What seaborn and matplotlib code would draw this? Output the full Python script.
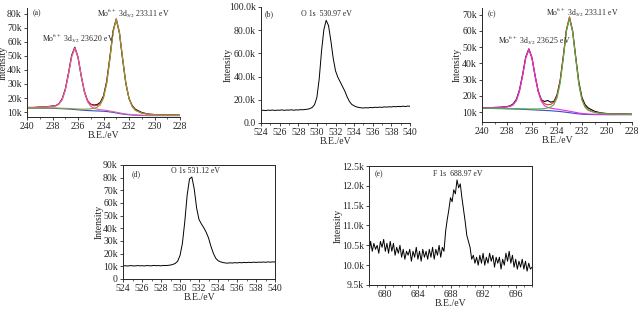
import pandas as pd
import matplotlib
matplotlib.use("Agg")
import matplotlib.pyplot as plt
from matplotlib.ticker import FuncFormatter, MultipleLocator
import seaborn as sns

# --- data (intensities in counts) ---
# Mo 3d panels (a) and (c)
be_mo = [240, 239.5, 239, 238.5, 238, 237.75, 237.5, 237.25, 237, 236.75, 236.5, 236.25,
         236, 235.75, 235.5, 235.25, 235, 234.75, 234.5, 234.25, 234, 233.75, 233.5, 233.25,
         233, 232.75, 232.5, 232.25, 232, 231.75, 231.5, 231, 230.5, 230, 229.5, 229, 228.5, 228]

a_raw = [13.3, 13.25, 13.55, 13.7, 14.3, 14.5, 15.9, 19.3, 26.2, 37.5, 50.3, 56.1,
         49.0, 35.6, 24.4, 17.9, 15.6, 15.0, 15.3, 16.9, 21.5, 32.0, 49.0, 67.8,
         76.0, 66.0, 47.3, 30.2, 19.6, 14.6, 12.0, 9.7, 8.6, 8.25, 8.0, 7.95, 7.9, 7.8]
a_env = [13.2, 13.32, 13.49, 13.77, 14.22, 14.64, 15.86, 18.89, 25.63, 36.87, 49.62, 55.78,
         49.4, 36.4, 25.1, 18.35, 15.45, 14.5, 14.7, 16.2, 20.75, 30.95, 47.95, 67.15,
         76.4, 66.95, 48.5, 31.15, 19.9, 14.15, 11.4, 9.35, 8.5, 8.2, 8.0, 7.9, 7.85, 7.8]
a_bg = [12.8, 12.8, 12.8, 12.8, 12.7, 12.6, 12.5, 12.4, 12.3, 12.2, 12.0, 11.8,
        11.6, 11.4, 11.25, 11.1, 11.0, 10.9, 10.8, 10.7, 10.6, 10.4, 10.1, 9.8,
        9.4, 9.0, 8.6, 8.3, 8.1, 7.9, 7.8, 7.6, 7.5, 7.5, 7.5, 7.5, 7.5, 7.5]
a_p1 = [13.1, 13.2, 13.35, 13.6, 14.0, 14.4, 15.6, 18.6, 25.3, 36.5, 49.2, 55.3,
        48.8, 35.7, 24.25, 17.3, 14.1, 12.7, 12.1, 11.7, 11.45, 11.15, 10.75, 10.35,
        9.9, 9.45, 9.0, 8.65, 8.4, 8.15, 8.0, 7.75, 7.6, 7.6, 7.55, 7.55, 7.55, 7.55]
a_p2 = [12.9, 12.92, 12.94, 12.97, 12.92, 12.84, 12.76, 12.69, 12.63, 12.57, 12.42, 12.28,
        12.2, 12.1, 12.1, 12.15, 12.35, 12.7, 13.4, 15.2, 19.9, 30.2, 47.3, 66.6,
        75.9, 66.5, 48.1, 30.8, 19.6, 13.9, 11.2, 9.2, 8.4, 8.1, 7.95, 7.85, 7.8, 7.75]

c_raw = [12.9, 12.75, 12.95, 13.1, 13.5, 13.9, 15.2, 17.9, 23.8, 33.2, 44.0, 48.9,
         43.3, 32.1, 22.8, 17.6, 16.6, 17.2, 16.2, 16.6, 20.6, 29.4, 44.1, 60.4,
         68.0, 59.8, 43.8, 28.5, 19.0, 14.6, 12.6, 10.6, 9.6, 9.2, 9.0, 8.95, 8.9, 8.8]
c_env = [12.8, 12.8, 12.87, 13.0, 13.39, 13.76, 14.83, 17.4, 23.19, 32.72, 43.57, 48.82,
         43.52, 32.6, 23.05, 17.5, 15.2, 14.6, 14.8, 16.05, 20.0, 28.9, 43.7, 60.55,
         68.6, 60.05, 43.4, 27.5, 17.85, 13.35, 11.4, 10.05, 9.4, 9.1, 9.0, 8.9, 8.85, 8.8]
c_bg = [12.4, 12.35, 12.3, 12.2, 12.1, 12.05, 12.0, 11.95, 11.9, 11.8, 11.7, 11.6,
        11.5, 11.4, 11.3, 11.2, 11.1, 11.0, 10.9, 10.75, 10.6, 10.4, 10.2, 9.95,
        9.7, 9.45, 9.2, 8.95, 8.8, 8.7, 8.6, 8.55, 8.5, 8.5, 8.5, 8.5, 8.5, 8.5]
c_p1 = [12.7, 12.7, 12.75, 12.85, 13.2, 13.55, 14.6, 17.15, 22.9, 32.4, 43.2, 48.4,
        43.0, 32.0, 22.3, 16.6, 14.0, 13.0, 12.5, 12.15, 11.9, 11.6, 11.3, 10.95,
        10.6, 10.25, 9.9, 9.5, 9.25, 9.05, 8.9, 8.75, 8.65, 8.6, 8.6, 8.6, 8.6, 8.6]
c_p2 = [12.5, 12.45, 12.42, 12.35, 12.29, 12.26, 12.23, 12.2, 12.19, 12.12, 12.07, 12.02,
        12.02, 12.0, 12.05, 12.1, 12.3, 12.6, 13.2, 14.65, 18.7, 27.7, 42.6, 59.55,
        67.7, 59.25, 42.7, 26.95, 17.4, 13.0, 11.1, 9.85, 9.25, 9.0, 8.9, 8.8, 8.75, 8.7]

# O 1s panels (b) and (d)
be_o = [524.0, 524.25, 524.5, 524.75, 525.0, 525.25, 525.5, 525.75, 526.0, 526.25, 526.5,
        526.75, 527.0, 527.25, 527.5, 527.75, 528.0, 528.25, 528.5, 528.75, 529.0, 529.25,
        529.5, 529.75, 530.0, 530.25, 530.5, 530.75, 531.0, 531.25, 531.5, 531.75, 532.0,
        532.25, 532.5, 532.75, 533.0, 533.25, 533.5, 533.75, 534.0, 534.25, 534.5, 534.75,
        535.0, 535.25, 535.5, 535.75, 536.0, 536.25, 536.5, 536.75, 537.0, 537.25, 537.5,
        537.75, 538.0, 538.25, 538.5, 538.75, 539.0, 539.25, 539.5, 539.75, 540.0]
b_o1s = [10.8, 11.0, 10.7, 11.1, 10.9, 11.2, 10.8, 11.1, 11.0, 11.3, 10.9,
         11.2, 11.1, 11.4, 11.0, 11.3, 11.2, 11.5, 11.4, 11.7, 11.9, 12.4,
         13.4, 15.8, 22.0, 38.0, 62.0, 80.5, 88.5, 84.0, 71.0, 56.0, 45.0,
         39.5, 35.5, 31.5, 27.5, 22.5, 18.5, 16.0, 14.8, 13.9, 13.4, 13.1,
         12.9, 13.2, 13.0, 13.4, 13.2, 13.6, 13.4, 13.7, 13.5, 13.9, 13.7,
         14.0, 13.8, 14.2, 14.0, 14.3, 14.1, 14.5, 14.2, 14.6, 14.4]
d_o1s = [10.3, 10.5, 10.2, 10.6, 10.4, 10.3, 10.6, 10.4, 10.5, 10.3, 10.6,
         10.5, 10.4, 10.7, 10.5, 10.6, 10.4, 10.7, 10.6, 10.8, 11.0, 11.5,
         12.3, 14.0, 18.5, 28.0, 45.0, 66.0, 79.0, 80.5, 71.0, 56.0, 47.0,
         43.5, 40.5, 37.0, 32.5, 26.0, 20.5, 16.5, 14.5, 13.6, 13.0, 12.7,
         12.5, 12.8, 12.6, 12.9, 12.7, 13.0, 12.8, 13.1, 12.9, 13.2, 13.0,
         13.3, 13.1, 13.3, 13.2, 13.4, 13.2, 13.5, 13.3, 13.5, 13.4]

# F 1s panel (e)
be_f = [678.0, 678.2, 678.4, 678.6, 678.8, 679.0, 679.2, 679.4, 679.6, 679.8,
        680.0, 680.2, 680.4, 680.6, 680.8, 681.0, 681.2, 681.4, 681.6, 681.8,
        682.0, 682.2, 682.4, 682.6, 682.8, 683.0, 683.2, 683.4, 683.6, 683.8,
        684.0, 684.2, 684.4, 684.6, 684.8, 685.0, 685.2, 685.4, 685.6, 685.8,
        686.0, 686.2, 686.4, 686.6, 686.8, 687.0, 687.2, 687.4, 687.6, 687.8,
        688.0, 688.2, 688.4, 688.6, 688.8, 689.0, 689.2, 689.4, 689.6, 689.8,
        690.0, 690.2, 690.4, 690.6, 690.8, 691.0, 691.2, 691.4, 691.6, 691.8,
        692.0, 692.2, 692.4, 692.6, 692.8, 693.0, 693.2, 693.4, 693.6, 693.8,
        694.0, 694.2, 694.4, 694.6, 694.8, 695.0, 695.2, 695.4, 695.6, 695.8,
        696.0, 696.2, 696.4, 696.6, 696.8, 697.0, 697.2, 697.4, 697.6, 697.8, 698.0]
e_f1s = [10.30, 10.60, 10.35, 10.55, 10.40, 10.50, 10.30, 10.60, 10.45, 10.65,
         10.35, 10.55, 10.30, 10.60, 10.35, 10.55, 10.25, 10.45, 10.30, 10.50,
         10.20, 10.40, 10.15, 10.35, 10.25, 10.40, 10.10, 10.35, 10.20, 10.45,
         10.15, 10.35, 10.10, 10.40, 10.20, 10.35, 10.15, 10.40, 10.20, 10.45,
         10.15, 10.40, 10.25, 10.50, 10.20, 10.45, 10.35, 10.85, 11.15, 11.40,
         11.70, 11.60, 11.90, 11.80, 12.15, 11.95, 12.05, 11.70, 11.40, 11.10,
         10.75, 10.60, 10.45, 10.15, 10.25, 10.05, 10.20, 10.00, 10.25, 10.05,
         10.30, 10.00, 10.20, 10.05, 10.30, 10.10, 10.25, 9.95, 10.20, 10.05,
         10.20, 9.90, 10.15, 10.00, 10.30, 10.10, 10.35, 10.05, 10.25, 9.95,
         10.15, 9.90, 10.10, 9.95, 10.15, 9.90, 10.10, 9.85, 10.05, 9.90, 9.95]

sns.set_style("ticks")
plt.rcParams['font.family'] = ['Liberation Serif', 'DejaVu Serif']
plt.rcParams['mathtext.fontset'] = 'stix'
plt.rcParams['axes.linewidth'] = 0.7

fs_tick = 7
fs_note = 5.6

fig = plt.figure(figsize=(6.42, 3.10), dpi=100)


def make_ax(px):
    # px = (left, top, right, bottom) in pixels
    l, t, r, b = px
    return fig.add_axes([l / 642, 1 - b / 310, (r - l) / 642, (b - t) / 310])


def fmt_k(v, pos):
    return f"{v / 1000:.0f}k"


def fmt_k1(v, pos):
    return "0.0" if v == 0 else f"{v / 1000:.1f}k"


def fmt_k0(v, pos):
    return "0" if v == 0 else f"{v / 1000:.0f}k"


def style_ax(ax, box, ylab_x):
    ax.tick_params(labelsize=fs_tick, length=2.5, width=0.6, pad=1.2)
    ax.tick_params(which='minor', length=1.5, width=0.5)
    ax.set_xlabel('B.E./eV', fontsize=fs_tick, labelpad=0)
    ax.set_ylabel('Intensity', fontsize=fs_tick)
    ax.yaxis.set_label_coords(ylab_x, 0.5)
    if not box:
        sns.despine(ax=ax)


def mo_panel(ax, raw, env, bg, p1, p2, c1, c2):
    df = pd.DataFrame({'be': be_mo, 'raw': [v * 1000 for v in raw], 'env': [v * 1000 for v in env],
                       'bg': [v * 1000 for v in bg], 'p1': [v * 1000 for v in p1],
                       'p2': [v * 1000 for v in p2]})
    sns.lineplot(data=df, x='be', y='raw', ax=ax, color='black', lw=0.8, sort=False, estimator=None)
    sns.lineplot(data=df, x='be', y='env', ax=ax, color='#e8303a', lw=0.8, sort=False, estimator=None)
    sns.lineplot(data=df, x='be', y='bg', ax=ax, color='#3a4cc8', lw=0.8, sort=False, estimator=None)
    sns.lineplot(data=df, x='be', y='p1', ax=ax, color=c1, lw=0.8, sort=False, estimator=None)
    sns.lineplot(data=df, x='be', y='p2', ax=ax, color=c2, lw=0.8, sort=False, estimator=None)
    ax.set_xlim(240, 228)
    ax.xaxis.set_major_locator(MultipleLocator(2))
    ax.xaxis.set_minor_locator(MultipleLocator(1))
    ax.yaxis.set_major_locator(MultipleLocator(10000))
    ax.yaxis.set_major_formatter(FuncFormatter(fmt_k))


# (a)
ax_a = make_ax((27, 8, 180, 117))
mo_panel(ax_a, a_raw, a_env, a_bg, a_p1, a_p2, '#e060b0', '#8aa030')
ax_a.set_ylim(6500, 84000)
style_ax(ax_a, False, -0.124)
ax_a.text(0.04, 0.955, '(a)', transform=ax_a.transAxes, fontsize=fs_note, va='center')
ax_a.text(0.10, 0.72, r'Mo$^{6+}$ 3d$_{3/2}$ 236.20 eV', transform=ax_a.transAxes,
          fontsize=fs_note, va='center')
ax_a.text(0.455, 0.955, r'Mo$^{6+}$ 3d$_{5/2}$ 233.11 eV', transform=ax_a.transAxes,
          fontsize=fs_note, va='center')

# (b)
ax_b = make_ax((261, 7, 410, 123))
df_b = pd.DataFrame({'be': be_o, 'cps': [v * 1000 for v in b_o1s]})
sns.lineplot(data=df_b, x='be', y='cps', ax=ax_b, color='black', lw=0.7, sort=False, estimator=None)
ax_b.set_xlim(524, 540)
ax_b.set_ylim(0, 100000)
ax_b.xaxis.set_major_locator(MultipleLocator(2))
ax_b.xaxis.set_minor_locator(MultipleLocator(1))
ax_b.yaxis.set_major_locator(MultipleLocator(20000))
ax_b.yaxis.set_major_formatter(FuncFormatter(fmt_k1))
style_ax(ax_b, False, -0.188)
ax_b.text(0.025, 0.94, '(b)', transform=ax_b.transAxes, fontsize=fs_note, va='center')
ax_b.text(0.27, 0.94, 'O 1s  530.97 eV', transform=ax_b.transAxes, fontsize=fs_note, va='center')

# (c)
ax_c = make_ax((482, 8, 632, 122))
mo_panel(ax_c, c_raw, c_env, c_bg, c_p1, c_p2, '#e030e0', '#55b040')
ax_c.set_ylim(4000, 74000)
style_ax(ax_c, False, -0.133)
ax_c.text(0.035, 0.95, '(c)', transform=ax_c.transAxes, fontsize=fs_note, va='center')
ax_c.text(0.105, 0.72, r'Mo$^{6+}$ 3d$_{3/2}$ 236.25 eV', transform=ax_c.transAxes,
          fontsize=fs_note, va='center')
ax_c.text(0.43, 0.965, r'Mo$^{6+}$ 3d$_{5/2}$ 233.11 eV', transform=ax_c.transAxes,
          fontsize=fs_note, va='center')

# (d)
ax_d = make_ax((123, 165, 275, 279))
df_d = pd.DataFrame({'be': be_o, 'cps': [v * 1000 for v in d_o1s]})
sns.lineplot(data=df_d, x='be', y='cps', ax=ax_d, color='black', lw=0.7, sort=False, estimator=None)
ax_d.set_xlim(524, 540)
ax_d.set_ylim(0, 90000)
ax_d.xaxis.set_major_locator(MultipleLocator(2))
ax_d.xaxis.set_minor_locator(MultipleLocator(1))
ax_d.yaxis.set_major_locator(MultipleLocator(10000))
ax_d.yaxis.set_major_formatter(FuncFormatter(fmt_k0))
style_ax(ax_d, True, -0.125)
ax_d.text(0.06, 0.92, '(d)', transform=ax_d.transAxes, fontsize=fs_note, va='center')
ax_d.text(0.315, 0.95, 'O 1s 531.12 eV', transform=ax_d.transAxes, fontsize=fs_note, va='center')

# (e)
ax_e = make_ax((369, 166, 532, 285))
df_e = pd.DataFrame({'be': be_f, 'cps': [v * 1000 for v in e_f1s]})
sns.lineplot(data=df_e, x='be', y='cps', ax=ax_e, color='black', lw=0.7, sort=False, estimator=None)
ax_e.set_xlim(678, 698)
ax_e.set_ylim(9500, 12500)
ax_e.xaxis.set_major_locator(MultipleLocator(4))
ax_e.xaxis.set_minor_locator(MultipleLocator(1))
ax_e.yaxis.set_major_locator(MultipleLocator(500))
ax_e.yaxis.set_major_formatter(FuncFormatter(fmt_k1))
style_ax(ax_e, True, -0.16)
ax_e.text(0.037, 0.93, '(e)', transform=ax_e.transAxes, fontsize=fs_note, va='center')
ax_e.text(0.39, 0.93, 'F 1s  688.97 eV', transform=ax_e.transAxes, fontsize=fs_note, va='center')

fig.savefig('out.png', dpi=100)
